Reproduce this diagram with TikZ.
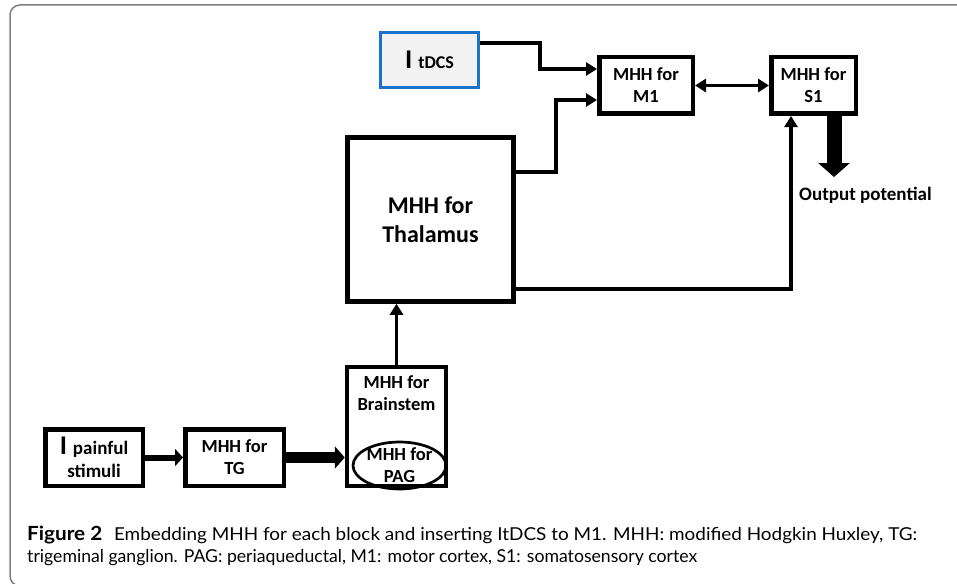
\documentclass[tikz,border=0pt]{standalone}
\usepackage{graphicx}
\usepackage{fontspec}
\setmainfont{Carlito}
\newfontfamily\capfont{Lato}
\usetikzlibrary{arrows.meta,shapes.geometric}
\definecolor{tdcsblue}{RGB}{25,115,200}
\definecolor{tdcsfill}{RGB}{242,242,242}
\definecolor{framegray}{RGB}{128,128,128}
\begin{document}
\begin{tikzpicture}[x=1pt,y=-1pt,
  blk/.style={draw,line width=4.5pt,inner sep=0pt,align=center,
    font=\bfseries\fontsize{18.5}{22}\selectfont},
  txt/.style={inner sep=0pt,align=center,font=\bfseries\fontsize{18.5}{22}\selectfont},
  conn/.style={line width=3.5pt,-{Triangle[length=11pt,width=13pt]}},
  dconn/.style={line width=3.5pt,{Triangle[length=11pt,width=13pt]}-{Triangle[length=11pt,width=13pt]}},
  capstyle/.style={anchor=base west,inner sep=0pt,font=\capfont\fontsize{17.8}{22}\selectfont}]
\useasboundingbox (0,0) rectangle (957,583);
\clip (0,0) rectangle (957,583);
\draw[framegray,line width=1.5pt,rounded corners=10pt] (10,5) rectangle (1000,586);

% blocks
\node[draw=tdcsblue,fill=tdcsfill,line width=3pt,inner sep=0pt,minimum width=98pt,minimum height=55pt,
  font=\bfseries] (tdcs) at (429.5,60)
  {{\fontsize{27}{27}\selectfont I}\hspace{6pt}{\fontsize{18}{20}\selectfont tDCS}};
\node[blk,minimum width=93.5pt,minimum height=56.5pt] (m1) at (646,85.5) {MHH for\\M1};
\node[blk,minimum width=84.5pt,minimum height=56.5pt] (s1) at (813.5,85.5) {MHH for\\S1};
\node[blk,minimum width=166pt,minimum height=164pt,font=\bfseries\fontsize{24}{29}\selectfont]
  (thal) at (430.5,219.5) {MHH for\\Thalamus};
\node[blk,minimum width=99pt,minimum height=119pt] (bs) at (396.5,426.5) {};
\node[txt] (bstxt) at (396.5,393) {MHH for\\Brainstem};
\node[draw,ellipse,line width=2.7pt,inner sep=0pt,minimum width=93pt,minimum height=47pt] (pag) at (399.5,465.5) {};
\node[txt] (pagtxt) at (399.5,465) {MHH for\\PAG};
\node[blk,minimum width=97.5pt,minimum height=56.5pt,font=\bfseries\fontsize{19}{23}\selectfont]
  (pain) at (94,457.5) {{\fontsize{27}{23}\selectfont I}\hspace{6pt}painful\\stimuli};
\node[blk,minimum width=98.5pt,minimum height=56.5pt] (tg) at (234.5,457.5) {MHH for\\TG};
\node[txt,anchor=base west,font=\bfseries\fontsize{19}{22}\selectfont] (out) at (799,200) {Output potential};

% connectors
\draw[conn] ([yshift=17pt]tdcs.east) -| (540,56) |- ([yshift=16.5pt]m1.west);
\draw[conn] ([yshift=47.5pt]thal.east) -| (556,130) |- ([yshift=-14.5pt]m1.west);
\draw[dconn] (m1.east) -- (s1.west);
\draw[conn] ([yshift=-69.5pt]thal.east) -| ([xshift=-22.5pt]s1.south);
\draw[conn] (bs.north) -- (thal.south -| bs.north);
\draw[line width=6pt,-{Triangle[length=8pt,width=17pt]}] (pain.east) -- (tg.west);
\draw[line width=11pt,-{Triangle[length=10pt,width=22pt]}] (tg.east) -- (tg.east -| bs.west);
\draw[line width=15pt,-{Triangle[length=14pt,width=31pt]}] ([xshift=20.5pt]s1.south) -- ++(0,61);

% caption
\node[capstyle] (cap1) at (27,540) {\resizebox{890pt}{\height}{{\fontsize{19.5}{22}\selectfont\textbf{Figure 2}}\hspace{11pt}Embedding MHH for each block and inserting ItDCS to M1. MHH: modified Hodgkin Huxley, TG:}};
\node[capstyle] (cap2) at (27,562) {\resizebox{670pt}{\height}{trigeminal ganglion. PAG: periaqueductal, M1: motor cortex, S1: somatosensory cortex}};
\end{tikzpicture}
\end{document}
